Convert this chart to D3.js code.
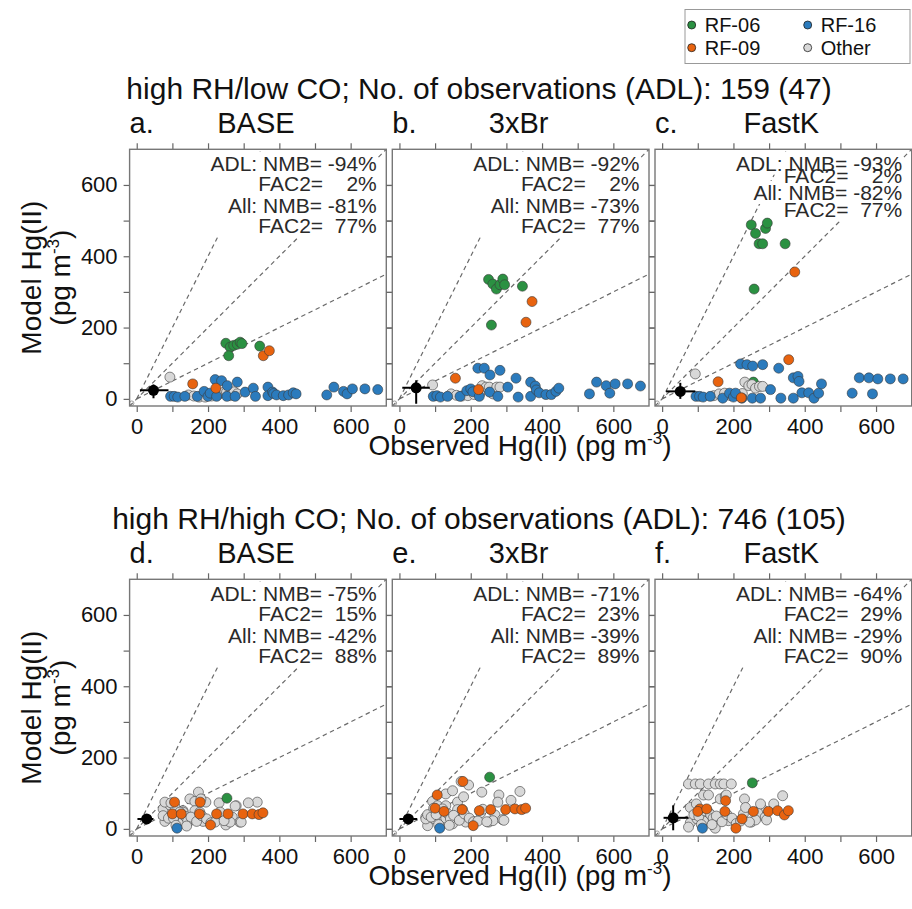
<!DOCTYPE html>
<html><head><meta charset="utf-8">
<script src="https://cdn.jsdelivr.net/npm/d3@7"></script>
<style>
body{margin:0;background:#fff}
text{font-family:"Liberation Sans",Arial,Helvetica,sans-serif}
</style>
</head><body>
<svg id="chart" width="912" height="909"></svg>
<script>
// ---------------- data ----------------
const rowTitles = ["high RH/low CO; No. of observations (ADL): 159 (47)",
                   "high RH/high CO; No. of observations (ADL): 746 (105)"];
const panelNames = ["BASE", "3xBr", "FastK"];
const panelLetters = ["a.", "b.", "c.", "d.", "e.", "f."];
const statAdlNmb  = ["-94%", "-92%", "-93%", "-75%", "-71%", "-64%"];
const statAdlFac2 = ["2%", "2%", "2%", "15%", "23%", "29%"];
const statAllNmb  = ["-81%", "-73%", "-82%", "-42%", "-39%", "-29%"];
const statAllFac2 = ["77%", "77%", "77%", "88%", "89%", "90%"];
const tickValues = [0, 100, 200, 300, 400, 500, 600];
const tickLabels = [0, 200, 400, 600];
const refSlopes = [2, 1, 0.5];
const legendNames = ["RF-06", "RF-16", "RF-09", "Other"];

// top row (high RH / low CO): observed x, model y for BASE, 3xBr, FastK
const topGreenObs   = [250, 262, 272, 282, 290, 295, 345, 258, 256];
const topGreenBase  = [156, 145, 150, 153, 159, 155, 148, 121, 20];
const topGreenBr3   = [335, 322, 308, 320, 336, 320, 316, 207, 30];
const topGreenFastK = [488, 464, 435, 435, 478, 493, 435, 308, 47];

const topGrayObs   = [93, 145, 160, 175, 192, 210, 232, 243, 252, 262, 273, 282, 225];
const topGrayBase  = [61, 11, 8, 5, 5, 8, 14, 18, 19, 9, 20, 14, 10];
const topGrayBr3   = [39, 14, 10, 8, 9, 12, 37, 33, 33, 14, 33, 33, 14];
const topGrayFastK = [70, 9, 14, 16, 9, 10, 47, 37, 40, 30, 35, 35, 15];

const topBlueObs   = [95,105,115,135,170,189,200,206,220,224,238,254,253,282,276,304,327,333,368,368,381,384,392,411,426,439,447,533,553,580,590,605,640,676];
const topBlueBase  = [7,7,5,7,7,21,7,16,54,7,51,37,7,47,7,19,30,7,33,9,19,15,11,9,11,17,14,11,33,21,14,28,28,26];
const topBlueBr3   = [7,9,5,7,7,23,28,20,86,7,86,67,19,80,7,33,58,5,47,7,36,25,17,12,12,21,30,14,47,37,16,42,42,36];
const topBlueFastK = [7,7,5,7,2,16,5,16,98,2,96,92,2,96,2,26,86,2,59,2,63,49,17,17,2,16,42,16,59,59,14,56,56,56];

const topOrangeObs   = [157, 222, 355, 372];
const topOrangeBase  = [42, 30, 121, 135];
const topOrangeBr3   = [58, 26, 215, 273];
const topOrangeFastK = [48, 3, 110, 356];

// bottom row (high RH / high CO)
const botGrayObs   = [74,93,107,130,149,163,173,194,116,130,163,177,231,338,279,268,289,228,205,186,149,116,79,74,98,130,250,79,89,96,103,121,136,143,152,168,182,196,208,220,234,262,276,293,313,180,245,110,140];
const botGrayBase  = [56,67,63,51,84,77,103,75,37,47,51,47,73,75,65,33,19,30,17,21,23,21,21,37,37,23,11,75,30,73,30,47,35,23,33,21,37,28,17,19,47,19,64,19,73,84,23,10,8];
const botGrayBr3   = [33,77,65,98,107,75,133,123,45,65,54,54,103,105,95,39,26,45,21,19,14,11,9,28,28,30,19,40,33,58,40,56,42,28,38,24,42,30,20,22,55,23,75,24,80,90,20,12,10];
const botGrayFastK = [126,126,126,126,126,126,126,126,95,95,84,92,84,93,58,45,33,42,21,23,2,23,17,5,28,47,19,60,40,70,35,50,40,30,36,20,40,30,15,22,60,25,70,25,70,95,19,12,12];

const botOrangeObs   = [106, 100, 125, 178, 176, 224, 256, 298, 324, 343, 354, 207];
const botOrangeBase  = [75, 42, 42, 75, 42, 42, 42, 42, 42, 40, 45, 11];
const botOrangeBr3   = [95, 58, 49, 133, 54, 51, 54, 54, 56, 54, 58, 9];
const botOrangeFastK = [56, 49, 56, 79, 49, 28, 49, 49, 51, 39, 51, 2];

const botGreenObs = [253], botGreenBase = [86], botGreenBr3 = [145], botGreenFastK = [129];
const botBlueObs = [113], botBlueBase = [2], botBlueBr3 = [2], botBlueFastK = [2];

// ADL mean with ranges, panels a..f
const adlMeanX = [47, 47, 51, 28, 25, 31];
const adlMeanY = [24, 31, 21, 28, 28, 31];
const adlXLo = [9, 8, 11, 2, 0, 4];
const adlXHi = [89, 85, 93, 47, 50, 74];
const adlYLo = [2, -14, 0, 18, 15, -4];
const adlYHi = [40, 52, 45, 38, 40, 66];

// ---------------- styling / layout ----------------
const colors = {green: "#2b9142", blue: "#2b7bbd", orange: "#e8630f", gray: "#d8d8d8"};
const panelLefts = [129.6, 392.3, 655];
const rowTops = [149.3, 579.3];
const S = 256.7;
const domain = [-20, 700];
const annotOffsets = [[21.4, 41.4, 63.4, 84], [21.4, 34, 50.7, 68]];

const rows = [
  {groups: [
    {c: colors.green,  x: topGreenObs,  y: [topGreenBase, topGreenBr3, topGreenFastK]},
    {c: colors.gray,   x: topGrayObs,   y: [topGrayBase, topGrayBr3, topGrayFastK]},
    {c: colors.blue,   x: topBlueObs,   y: [topBlueBase, topBlueBr3, topBlueFastK]},
    {c: colors.orange, x: topOrangeObs, y: [topOrangeBase, topOrangeBr3, topOrangeFastK]}
  ]},
  {groups: [
    {c: colors.gray,   x: botGrayObs,   y: [botGrayBase, botGrayBr3, botGrayFastK]},
    {c: colors.orange, x: botOrangeObs, y: [botOrangeBase, botOrangeBr3, botOrangeFastK]},
    {c: colors.green,  x: botGreenObs,  y: [botGreenBase, botGreenBr3, botGreenFastK]},
    {c: colors.blue,   x: botBlueObs,   y: [botBlueBase, botBlueBr3, botBlueFastK]}
  ]}
];

const svg = d3.select("#chart");
const defs = svg.append("defs");

function padFac(v) { return "FAC2=  " + (v.length < 3 ? "\u2007" + v : v); }

function unitLabel(sel) {
  sel.append("tspan").text("(pg m");
  sel.append("tspan").attr("font-size", 17).attr("dy", -11).text("-3");
  sel.append("tspan").attr("dy", 11).text(")");
}

rows.forEach((row, r) => {
  const T = rowTops[r];
  // row title
  svg.append("text").attr("x", 479).attr("y", T - 50).attr("text-anchor", "middle")
    .attr("font-size", 30).attr("fill", "#111").text(rowTitles[r]);
  // y axis title
  const yc = T + S / 2;
  svg.append("text").attr("transform", `translate(41,${yc}) rotate(-90)`)
    .attr("text-anchor", "middle").attr("font-size", 28).attr("fill", "#111").text("Model Hg(II)");
  const yt2 = svg.append("text").attr("transform", `translate(70,${yc}) rotate(-90)`)
    .attr("text-anchor", "middle").attr("font-size", 28).attr("fill", "#111");
  unitLabel(yt2);
  // x axis title
  const xt = svg.append("text").attr("x", 520).attr("y", T + S + 49).attr("text-anchor", "middle")
    .attr("font-size", 28).attr("fill", "#111");
  xt.append("tspan").text("Observed Hg(II) ");
  unitLabel(xt);

  panelLefts.forEach((L, c) => {
    const p = r * 3 + c;
    const x = d3.scaleLinear().domain(domain).range([L, L + S]);
    const y = d3.scaleLinear().domain(domain).range([T + S, T]);
    const g = svg.append("g");
    const clipId = "clip" + p;
    defs.append("clipPath").attr("id", clipId).append("rect")
      .attr("x", L).attr("y", T).attr("width", S).attr("height", S);

    // panel titles
    g.append("text").attr("x", L).attr("y", T - 16).attr("font-size", 29).attr("fill", "#111").text(panelLetters[p]);
    g.append("text").attr("x", L + S / 2 - 2).attr("y", T - 16).attr("text-anchor", "middle")
      .attr("font-size", 29).attr("fill", "#111").text(panelNames[c]);

    // frame background
    g.append("rect").attr("x", L).attr("y", T).attr("width", S).attr("height", S).attr("fill", "#fff");

    // axes
    const tickStyle = sel => {
      sel.select(".domain").remove();
      sel.selectAll(".tick line").attr("stroke", "#666").attr("stroke-width", 1.2);
      sel.selectAll(".tick text").attr("font-size", 22).attr("fill", "#111")
        .attr("font-family", '"Liberation Sans",Arial,sans-serif');
    };
    const fmt = d => tickLabels.includes(d) ? d : "";
    g.append("g").attr("transform", `translate(0,${T + S})`)
      .call(d3.axisBottom(x).tickValues(tickValues).tickSize(6).tickPadding(6).tickFormat(fmt)).call(tickStyle);
    g.append("g").attr("transform", `translate(0,${T})`)
      .call(d3.axisTop(x).tickValues(tickValues).tickSize(6).tickFormat("")).call(tickStyle);
    g.append("g").attr("transform", `translate(${L},0)`)
      .call(d3.axisLeft(y).tickValues(tickValues).tickSize(6).tickPadding(6).tickFormat(c === 0 ? fmt : "")).call(tickStyle);
    g.append("g").attr("transform", `translate(${L + S},0)`)
      .call(d3.axisRight(y).tickValues(tickValues).tickSize(6).tickFormat("")).call(tickStyle);

    const inner = g.append("g").attr("clip-path", `url(#${clipId})`);
    // reference lines
    refSlopes.forEach(k => {
      const x0 = k === 1 ? -20 : 0;
      const x1 = Math.min(700, 700 / k);
      inner.append("line").attr("x1", x(x0)).attr("y1", y(k * x0)).attr("x2", x(x1)).attr("y2", y(k * x1))
        .attr("stroke", "#6a6a6a").attr("stroke-width", 1.2).attr("stroke-dasharray", "4.5,3.5");
    });
    inner.append("circle").attr("cx", x(-14)).attr("cy", y(-12)).attr("r", 2.2)
      .attr("fill", "none").attr("stroke", "#888").attr("stroke-width", 0.8);

    // annotation text with white boxes
    const tight = (c === 2 && r === 0);
    const offs = annotOffsets[tight ? 1 : 0];
    const lines = ["ADL: NMB= " + statAdlNmb[p], padFac(statAdlFac2[p]),
                   "All: NMB= " + statAllNmb[p], padFac(statAllFac2[p])];
    const boxG = inner.append("g");
    const txtG = inner.append("g");
    const texts = lines.map((s, i) => txtG.append("text").attr("x", L + S - 9.5).attr("y", T + offs[i])
      .attr("text-anchor", "end").attr("font-size", 21).attr("fill", "#2a2a2a")
      .attr("xml:space", "preserve").style("white-space", "pre").text(s));
    const boxes = texts.map(t => t.node().getBBox());
    if (tight) {
      boxes.forEach(b => boxG.append("rect").attr("x", b.x - 1).attr("y", b.y).attr("width", b.width + 2)
        .attr("height", b.height).attr("fill", "#fff"));
    } else {
      const x0 = d3.min(boxes, b => b.x), y0 = d3.min(boxes, b => b.y);
      const x1 = d3.max(boxes, b => b.x + b.width), y1 = d3.max(boxes, b => b.y + b.height);
      boxG.append("rect").attr("x", x0 - 1).attr("y", y0).attr("width", x1 - x0 + 2)
        .attr("height", y1 - y0).attr("fill", "#fff");
    }

    // points
    row.groups.forEach(grp => {
      const ys = grp.y[c];
      inner.append("g").selectAll("circle").data(grp.x).join("circle")
        .attr("cx", d => x(d)).attr("cy", (d, i) => y(ys[i])).attr("r", 5)
        .attr("fill", grp.c).attr("stroke", "#3a3a3a").attr("stroke-width", 0.6);
    });

    // ADL mean with error bars
    inner.append("line").attr("x1", x(adlXLo[p])).attr("x2", x(adlXHi[p]))
      .attr("y1", y(adlMeanY[p])).attr("y2", y(adlMeanY[p])).attr("stroke", "#000").attr("stroke-width", 2);
    inner.append("line").attr("x1", x(adlMeanX[p])).attr("x2", x(adlMeanX[p]))
      .attr("y1", y(adlYLo[p])).attr("y2", y(adlYHi[p])).attr("stroke", "#000").attr("stroke-width", 2);
    inner.append("circle").attr("cx", x(adlMeanX[p])).attr("cy", y(adlMeanY[p])).attr("r", 5.5).attr("fill", "#000");

    // frame
    g.append("rect").attr("x", L).attr("y", T).attr("width", S).attr("height", S)
      .attr("fill", "none").attr("stroke", "#777").attr("stroke-width", 1.4);
  });
});

// legend
const lg = svg.append("g");
lg.append("rect").attr("x", 685).attr("y", 9.5).attr("width", 225).attr("height", 54)
  .attr("fill", "#fff").attr("stroke", "#999").attr("stroke-width", 1);
const legColors = [colors.green, colors.blue, colors.orange, colors.gray];
const legX = [691.7, 807.7], legY = [25, 47.7];
legendNames.forEach((n, i) => {
  const cx = legX[i % 2], cy = legY[Math.floor(i / 2)];
  lg.append("circle").attr("cx", cx).attr("cy", cy).attr("r", 4).attr("fill", legColors[i])
    .attr("stroke", "#222").attr("stroke-width", 0.8);
  lg.append("text").attr("x", cx + 13).attr("y", cy + 7).attr("font-size", 20).attr("fill", "#111").text(n);
});
</script>
</body></html>
